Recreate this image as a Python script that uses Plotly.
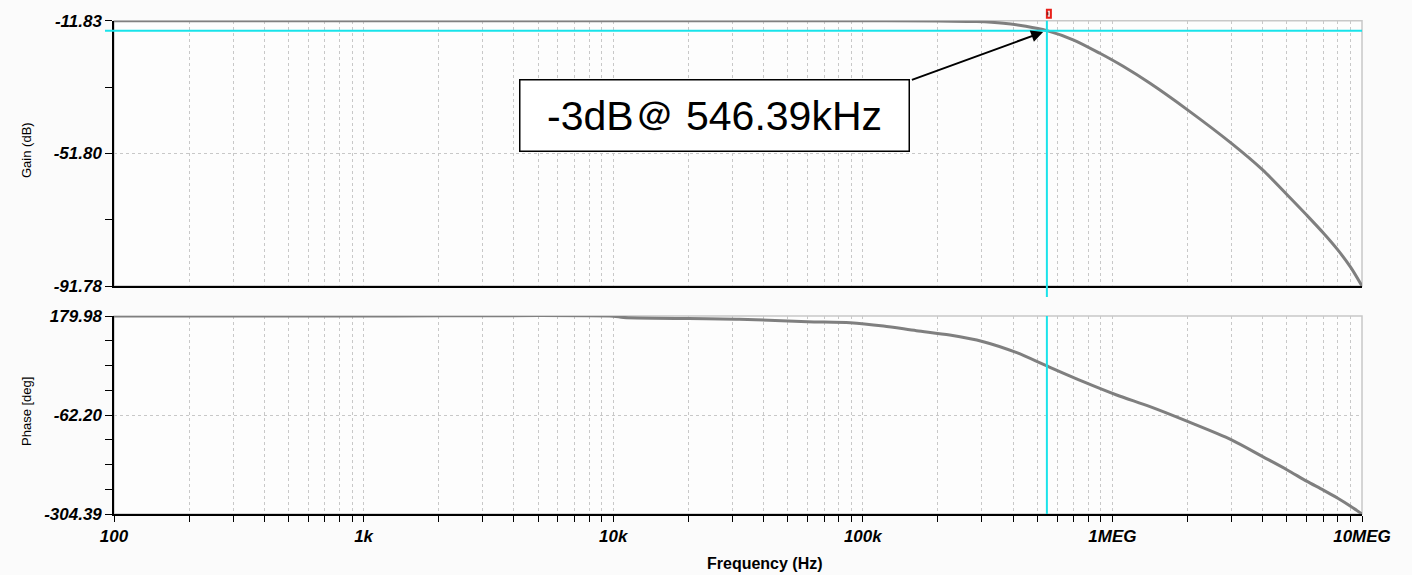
import math
import plotly.graph_objects as go

# ---------------- data ----------------
gain_freq_hz = [100, 1e3, 1e4, 1e5, 2e5, 2.86e5, 3.66e5, 4.5e5, 546390, 7e5, 8.91e5,
                1.1e6, 1.415e6, 2e6, 3e6, 4e6, 5e6, 6e6, 7e6, 8e6, 9e6, 1e7]
gain_db = [-11.83, -11.83, -11.83, -11.83, -11.9, -12.1, -12.6, -13.5, -14.83, -17.65, -21.65,
           -25.5, -30.7, -38.7, -48.8, -56.8, -64.2, -70.4, -75.8, -80.9, -86.1, -91.78]

phase_freq_hz = [100, 1e3, 1e4, 1.1e4, 3.2e4, 6e4, 8.9e4, 1.21e5, 1.64e5, 2.23e5, 3.04e5,
                 4.14e5, 546390, 7.64e5, 1.04e6, 1.415e6, 2e6, 3e6, 4e6, 5e6, 6e6, 7e6,
                 8e6, 9e6, 1e7]
phase_deg = [179.98, 179.9, 179.5, 176.5, 172.0, 166.0, 163.6, 155.5, 144.0, 133.5, 117.1,
             90.2, 57.7, 19.3, -13.3, -41.9, -78.0, -123.0, -164.0, -196.0, -224.0, -246.0,
             -266.0, -285.5, -304.39]

x_tick_vals = [100, 1e3, 1e4, 1e5, 1e6, 1e7]
x_tick_text = ["100", "1k", "10k", "100k", "1MEG", "10MEG"]

gain_tick_vals = [-91.78, -51.80, -11.83]
gain_tick_text = ["-91.78", "-51.80", "-11.83"]
gain_minor_vals = [-71.79, -31.82]

phase_tick_vals = [-304.39, -62.20, 179.98]
phase_tick_text = ["-304.39", "-62.20", "179.98"]
phase_minor_vals = [119.43, 58.89, -1.66, -122.75, -183.30, -243.84]

cursor_freq_hz = 546390
cursor_gain_db = -14.83
annotation_text = "-3dB\uff20 546.39kHz"

# ---------------- layout helpers ----------------
W, H = 1412, 575
def px_x(p):
    return p / W
def px_y(p):
    return (H - p) / H

x_dom = [px_x(114), px_x(1362)]
gain_dom = [px_y(286), px_y(20.7)]
phase_dom = [px_y(514), px_y(316)]

minor_x = [k * 10 ** d for d in range(2, 7) for k in range(2, 10)]

CURVE = "#7f7f7f"
CYAN = "#19e3ea"
GRID = "#c8c8c8"
DASH = "3px,3px"
tickfont = dict(family="Liberation Sans, Arial", size=17, color="black",
                weight="bold", style="italic")

fig = go.Figure()
fig.add_trace(go.Scatter(x=gain_freq_hz, y=gain_db, mode="lines",
                         line=dict(color=CURVE, width=3, shape="spline", smoothing=0.8),
                         xaxis="x", yaxis="y", showlegend=False, cliponaxis=False))
fig.add_trace(go.Scatter(x=phase_freq_hz, y=phase_deg, mode="lines",
                         line=dict(color=CURVE, width=3, shape="spline", smoothing=0.8),
                         xaxis="x2", yaxis="y2", showlegend=False, cliponaxis=False))

common_x = dict(type="log", range=[2, 7], domain=x_dom, automargin=False,
                showline=True, linecolor="black", linewidth=1.5,
                showgrid=True, gridcolor=GRID, griddash=DASH, gridwidth=1,
                zeroline=False, tickvals=x_tick_vals, ticktext=x_tick_text)

fig.update_layout(
    width=W, height=H,
    margin=dict(l=0, r=0, t=0, b=0),
    paper_bgcolor="#fbfbfb", plot_bgcolor="#fdfdfd",
    xaxis=dict(**common_x, anchor="y", showticklabels=False, ticks="",
               minor=dict(tickmode="array", tickvals=minor_x, ticks="",
                          showgrid=True, gridcolor=GRID, griddash=DASH)),
    xaxis2=dict(**common_x, anchor="y2", showticklabels=True, ticks="outside",
                ticklen=6, tickcolor="black", tickwidth=1, tickfont=tickfont,
                minor=dict(tickmode="array", tickvals=minor_x, ticks="outside",
                           ticklen=6, tickcolor="black",
                           showgrid=True, gridcolor=GRID, griddash=DASH)),
    yaxis=dict(range=[-91.78, -11.83], domain=gain_dom, anchor="x", automargin=False,
               showline=True, linecolor="black", linewidth=1.5,
               tickvals=gain_tick_vals, ticktext=gain_tick_text, ticks="outside",
               ticklen=7, tickcolor="black", tickfont=tickfont,
               showgrid=True, gridcolor=GRID, griddash=DASH, zeroline=False,
               minor=dict(tickmode="array", tickvals=gain_minor_vals, ticks="outside",
                          ticklen=7, tickcolor="black", showgrid=False)),
    yaxis2=dict(range=[-304.39, 179.98], domain=phase_dom, anchor="x2", automargin=False,
                showline=True, linecolor="black", linewidth=1.5,
                tickvals=phase_tick_vals, ticktext=phase_tick_text, ticks="outside",
                ticklen=7, tickcolor="black", tickfont=tickfont,
                showgrid=True, gridcolor=GRID, griddash=DASH, zeroline=False,
                minor=dict(tickmode="array", tickvals=phase_minor_vals, ticks="outside",
                           ticklen=7, tickcolor="black", showgrid=False)),
)

shapes = []
# light grey frame for top/right edges of each panel
for xr, yr in (("x domain", "y domain"), ("x2 domain", "y2 domain")):
    shapes.append(dict(type="rect", xref=xr, yref=yr, x0=0, x1=1, y0=0, y1=1,
                       line=dict(color="#c8c8c8", width=1.5), layer="below"))
# cursor lines
shapes.append(dict(type="line", xref="paper", yref="y", x0=px_x(105), x1=x_dom[1],
                   y0=cursor_gain_db, y1=cursor_gain_db, line=dict(color=CYAN, width=2)))
shapes.append(dict(type="line", xref="x", yref="paper", x0=cursor_freq_hz, x1=cursor_freq_hz,
                   y0=px_y(297), y1=gain_dom[1], line=dict(color=CYAN, width=2)))
shapes.append(dict(type="line", xref="x2", yref="y2 domain", x0=cursor_freq_hz,
                   x1=cursor_freq_hz, y0=0, y1=1, line=dict(color=CYAN, width=2)))
# red cursor marker above the gain panel
shapes.append(dict(type="rect", xref="x", yref="y domain",
                   xsizemode="pixel", xanchor=cursor_freq_hz, x0=-4, x1=4,
                   ysizemode="pixel", yanchor=1, y0=3, y1=11,
                   line=dict(color="#e8201a", width=2), fillcolor="#f3e6e6"))
shapes.append(dict(type="rect", xref="x", yref="y domain",
                   xsizemode="pixel", xanchor=cursor_freq_hz, x0=-1.5, x1=1.5,
                   ysizemode="pixel", yanchor=1, y0=5.5, y1=8.5,
                   line=dict(width=0), fillcolor="#7a2020"))
fig.update_layout(shapes=shapes)

cx = math.log10(cursor_freq_hz)
annotations = [
    # arrow
    dict(xref="x", yref="y", x=cx, y=cursor_gain_db, text=" ", font=dict(size=2),
         showarrow=True, arrowhead=2, arrowsize=1.2, arrowwidth=2, arrowcolor="black",
         axref="pixel", ayref="pixel", ax=-137, ay=50, standoff=4),
    # boxed label
    dict(xref="paper", yref="paper", x=px_x(714), y=px_y(115.5), text=annotation_text,
         showarrow=False, font=dict(family="Liberation Sans, Arial", size=41, color="black"),
         bgcolor="white", bordercolor="black", borderwidth=1.5, borderpad=4,
         width=380, height=62, xanchor="center", yanchor="middle"),
    # axis titles
    dict(xref="paper", yref="paper", x=px_x(26), y=px_y(150), text="Gain (dB)",
         textangle=-90, showarrow=False, xanchor="center", yanchor="middle",
         font=dict(family="Liberation Sans, Arial", size=13, color="black")),
    dict(xref="paper", yref="paper", x=px_x(26), y=px_y(412), text="Phase [deg]",
         textangle=-90, showarrow=False, xanchor="center", yanchor="middle",
         font=dict(family="Liberation Sans, Arial", size=13, color="black")),
    dict(xref="paper", yref="paper", x=px_x(765), y=px_y(563), text="Frequency (Hz)",
         showarrow=False, xanchor="center", yanchor="middle",
         font=dict(family="Liberation Sans, Arial", size=16, color="black", weight="bold")),
]
fig.update_layout(annotations=annotations)

fig.write_html("out.html")
